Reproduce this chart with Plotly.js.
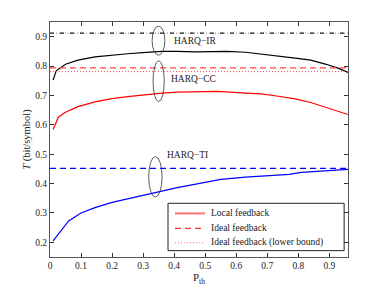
<!DOCTYPE html>
<html>
<head>
<meta charset="utf-8">
<script src="https://cdn.plot.ly/plotly-3.0.1.min.js"></script>
<style>html,body{margin:0;padding:0;background:#fff;}#chart{width:384px;height:289px;}</style>
</head>
<body>
<div id="chart"></div>
<script>
// P_th values and throughput T (bit/symbol)
const irX = [0.01, 0.02, 0.05, 0.09, 0.145, 0.2, 0.25, 0.3, 0.36, 0.41, 0.47, 0.52, 0.57, 0.63, 0.68, 0.73, 0.79, 0.84, 0.89, 0.93, 0.96];
const irLocal = [0.752, 0.784, 0.806, 0.82, 0.831, 0.838, 0.842, 0.846, 0.85, 0.85, 0.848, 0.849, 0.85, 0.847, 0.841, 0.836, 0.827, 0.82, 0.806, 0.792, 0.778];

const ccX = [0.01, 0.027, 0.048, 0.09, 0.145, 0.2, 0.25, 0.3, 0.36, 0.41, 0.47, 0.54, 0.63, 0.68, 0.73, 0.79, 0.84, 0.89, 0.93, 0.96];
const ccLocal = [0.584, 0.626, 0.642, 0.662, 0.678, 0.689, 0.696, 0.702, 0.708, 0.711, 0.713, 0.714, 0.708, 0.705, 0.698, 0.688, 0.676, 0.659, 0.646, 0.635];

const tiX = [0.01, 0.06, 0.1, 0.145, 0.2, 0.25, 0.3, 0.36, 0.41, 0.47, 0.55, 0.63, 0.68, 0.77, 0.81, 0.89, 0.96];
const tiLocal = [0.205, 0.273, 0.3, 0.318, 0.336, 0.348, 0.36, 0.373, 0.386, 0.398, 0.414, 0.422, 0.426, 0.431, 0.438, 0.442, 0.448];

const idealX = [0, 0.96];
const irIdeal = 0.912, irLower = 0.912;
const ccIdeal = 0.794, ccLower = 0.781;
const tiIdeal = 0.452;

const xTicks = [0, 0.1, 0.2, 0.3, 0.4, 0.5, 0.6, 0.7, 0.8, 0.9];
const yTicks = [0.2, 0.3, 0.4, 0.5, 0.6, 0.7, 0.8, 0.9];

const legendNames = ['Local feedback', 'Ideal feedback', 'Ideal feedback (lower bound)'];
const labels = ['HARQ\u2212IR', 'HARQ\u2212CC', 'HARQ\u2212TI'];

const flat = v => idealX.map(() => v);
const serif = 'Liberation Serif, Times New Roman, serif';

const traces = [
  {x: idealX, y: flat(irLower), mode: 'lines', line: {color: '#808080', width: 1, dash: '1px,2px'}},
  {x: idealX, y: flat(irIdeal), mode: 'lines', line: {color: '#222', width: 1.2, dash: '4px,6px'}},
  {x: irX, y: irLocal, mode: 'lines', line: {color: '#000', width: 1.2}},
  {x: idealX, y: flat(ccIdeal), mode: 'lines', line: {color: '#ff4444', width: 1.2, dash: '6px,4px'}},
  {x: idealX, y: flat(ccLower), mode: 'lines', line: {color: '#ff4444', width: 1, dash: '1px,2px'}},
  {x: ccX, y: ccLocal, mode: 'lines', line: {color: '#ff0000', width: 1.2}},
  {x: idealX, y: flat(tiIdeal), mode: 'lines', line: {color: '#0000ff', width: 1.2, dash: '6px,4px'}},
  {x: tiX, y: tiLocal, mode: 'lines', line: {color: '#0000ff', width: 1.2}}
];

const ellipse = (x0, x1, y0, y1) => ({type: 'circle', xref: 'x', yref: 'y', x0, x1, y0, y1, line: {color: '#333', width: 0.8}});

// hand-drawn legend box (paper coordinates)
const legBox = {x0: 0.396, x1: 0.987, y0: 0.027, y1: 0.2285};
const legRows = [0.1855, 0.1217, 0.0604];
const legStyles = [
  {color: '#ff7070', width: 2, dash: 'solid'},
  {color: '#ff3333', width: 1.2, dash: '6px,4px'},
  {color: '#ff7070', width: 1, dash: '1px,2px'}
];
const legendShapes = [
  {type: 'rect', xref: 'paper', yref: 'paper', x0: legBox.x0, x1: legBox.x1, y0: legBox.y0, y1: legBox.y1,
   line: {color: '#222', width: 1}, fillcolor: '#fff', layer: 'above'}
].concat(legRows.map((ry, i) => ({
  type: 'line', xref: 'paper', yref: 'paper', x0: 0.4195, x1: 0.520, y0: ry, y1: ry, line: legStyles[i], layer: 'above'
})));
const legendTexts = legRows.map((ry, i) => ({
  xref: 'paper', yref: 'paper', x: 0.533, y: ry, text: legendNames[i], showarrow: false,
  xanchor: 'left', yanchor: 'middle', font: {family: serif, size: 9.5, color: '#222'}
}));

const layout = {
  width: 384, height: 289,
  margin: {l: 50, r: 36, t: 22, b: 32},
  paper_bgcolor: '#fff', plot_bgcolor: '#fff',
  font: {family: serif, size: 9, color: '#222'},
  showlegend: false,
  xaxis: {
    range: [0, 0.96], tickvals: xTicks, ticktext: xTicks.map(String), ticks: 'inside', ticklen: 4, tickcolor: '#333',
    showline: true, linecolor: '#555', linewidth: 1, mirror: 'ticks', showgrid: false, zeroline: false,
    tickfont: {family: serif, size: 9.5},
    title: {text: 'P<sub>th</sub>', font: {family: serif, size: 11}, standoff: 2}
  },
  yaxis: {
    range: [0.15, 0.95], tickvals: yTicks, ticktext: yTicks.map(String), ticks: 'inside', ticklen: 4, tickcolor: '#333',
    showline: true, linecolor: '#555', linewidth: 1, mirror: 'ticks', showgrid: false, zeroline: false,
    tickfont: {family: serif, size: 9.5},
    title: {text: '<i>T</i> (bit/symbol)', font: {family: serif, size: 10.5}, standoff: 2}
  },
  shapes: [
    ellipse(0.329, 0.370, 0.837, 0.936),
    ellipse(0.332, 0.368, 0.679, 0.818),
    ellipse(0.318, 0.361, 0.354, 0.492)
  ].concat(legendShapes),
  annotations: [
    {x: 0.392, y: 0.884, xref: 'x', yref: 'y', text: labels[0], showarrow: false, xanchor: 'left', font: {family: serif, size: 9.5}},
    {x: 0.384, y: 0.756, xref: 'x', yref: 'y', text: labels[1], showarrow: false, xanchor: 'left', font: {family: serif, size: 9.5}},
    {x: 0.370, y: 0.496, xref: 'x', yref: 'y', text: labels[2], showarrow: false, xanchor: 'left', font: {family: serif, size: 9.5}}
  ].concat(legendTexts)
};

Plotly.newPlot('chart', traces, layout, {staticPlot: true, displayModeBar: false});
</script>
</body>
</html>
